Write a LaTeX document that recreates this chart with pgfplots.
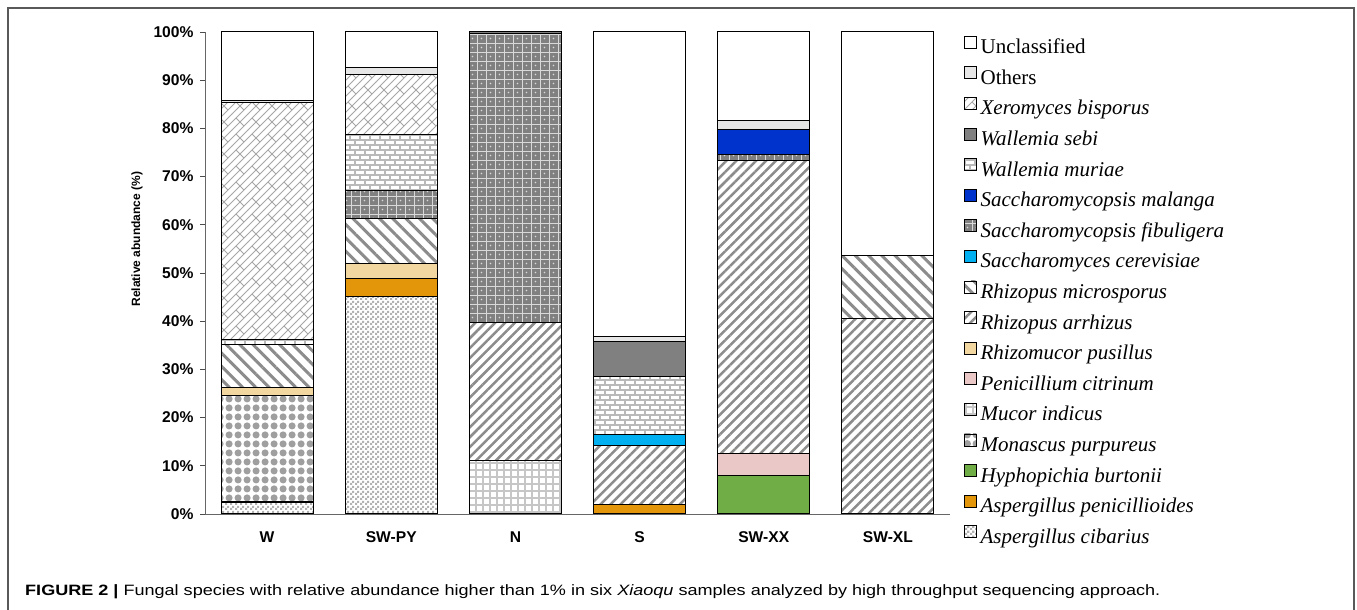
\documentclass[border=0pt]{standalone}
\usepackage{pgfplots}
\pgfplotsset{compat=1.18}
\usepackage{pgfplotstable}
\usepackage{fontspec}
\setmainfont{Liberation Serif}
\setsansfont{Liberation Sans}
\usetikzlibrary{patterns,patterns.meta}

% diagonal bricks (Xeromyces)
\pgfdeclarepatternformonly{diagbricks}{\pgfqpoint{-1pt}{-1pt}}{\pgfqpoint{17pt}{17pt}}{\pgfqpoint{16pt}{16pt}}{%
  \pgfsetlinewidth{0.9pt}%
  \pgfpathmoveto{\pgfqpoint{0pt}{0pt}}\pgfpathlineto{\pgfqpoint{16pt}{16pt}}%
  \pgfpathmoveto{\pgfqpoint{0pt}{8pt}}\pgfpathlineto{\pgfqpoint{8pt}{16pt}}%
  \pgfpathmoveto{\pgfqpoint{8pt}{0pt}}\pgfpathlineto{\pgfqpoint{16pt}{8pt}}%
  \pgfpathmoveto{\pgfqpoint{4pt}{4pt}}\pgfpathlineto{\pgfqpoint{0pt}{8pt}}%
  \pgfpathmoveto{\pgfqpoint{16pt}{8pt}}\pgfpathlineto{\pgfqpoint{12pt}{12pt}}%
  \pgfusepath{stroke}}
% horizontal bricks (Wallemia muriae)
\pgfdeclarepatternformonly{hbricks}{\pgfqpoint{-1pt}{-1pt}}{\pgfqpoint{21pt}{11pt}}{\pgfqpoint{20pt}{10pt}}{%
  \pgfsetlinewidth{1.6pt}%
  \pgfpathmoveto{\pgfqpoint{0pt}{0pt}}\pgfpathlineto{\pgfqpoint{20pt}{0pt}}%
  \pgfpathmoveto{\pgfqpoint{0pt}{5pt}}\pgfpathlineto{\pgfqpoint{20pt}{5pt}}%
  \pgfpathmoveto{\pgfqpoint{0pt}{0pt}}\pgfpathlineto{\pgfqpoint{0pt}{5pt}}%
  \pgfpathmoveto{\pgfqpoint{10pt}{0pt}}\pgfpathlineto{\pgfqpoint{10pt}{5pt}}%
  \pgfpathmoveto{\pgfqpoint{5pt}{5pt}}\pgfpathlineto{\pgfqpoint{5pt}{10pt}}%
  \pgfpathmoveto{\pgfqpoint{15pt}{5pt}}\pgfpathlineto{\pgfqpoint{15pt}{10pt}}%
  \pgfusepath{stroke}}
% grid with dots (Saccharomycopsis fibuligera)
\pgfdeclarepatternformonly{fibgrid}{\pgfqpoint{-1pt}{-1pt}}{\pgfqpoint{10pt}{10pt}}{\pgfqpoint{9pt}{9pt}}{%
  \pgfsetlinewidth{0.4pt}%
  \pgfpathmoveto{\pgfqpoint{0pt}{0pt}}\pgfpathlineto{\pgfqpoint{9pt}{0pt}}%
  \pgfpathmoveto{\pgfqpoint{0pt}{0pt}}\pgfpathlineto{\pgfqpoint{0pt}{9pt}}%
  \pgfusepath{stroke}%
  \pgfpathcircle{\pgfqpoint{4.5pt}{4.5pt}}{0.9pt}\pgfusepath{fill}}
% thick grid (Mucor indicus)
\pgfdeclarepatternformonly{mucgrid}{\pgfqpoint{-2pt}{-2pt}}{\pgfqpoint{9pt}{9pt}}{\pgfqpoint{7pt}{7pt}}{%
  \pgfsetlinewidth{2.4pt}%
  \pgfpathmoveto{\pgfqpoint{-1pt}{0pt}}\pgfpathlineto{\pgfqpoint{8pt}{0pt}}%
  \pgfpathmoveto{\pgfqpoint{0pt}{-1pt}}\pgfpathlineto{\pgfqpoint{0pt}{8pt}}%
  \pgfusepath{stroke}}
% big dots (Monascus purpureus)
\pgfdeclarepatternformonly{bigdots}{\pgfqpoint{0pt}{0pt}}{\pgfqpoint{9pt}{9pt}}{\pgfqpoint{9pt}{9pt}}{%
  \pgfpathcircle{\pgfqpoint{4.5pt}{4.5pt}}{3.9pt}\pgfusepath{fill}}
% fine checker (Aspergillus cibarius)
\pgfdeclarepatternformonly{finechk}{\pgfqpoint{0pt}{0pt}}{\pgfqpoint{5pt}{5pt}}{\pgfqpoint{5pt}{5pt}}{%
  \pgfpathrectangle{\pgfqpoint{0pt}{0pt}}{\pgfqpoint{2.5pt}{2.5pt}}%
  \pgfpathrectangle{\pgfqpoint{2.5pt}{2.5pt}}{\pgfqpoint{2.5pt}{2.5pt}}%
  \pgfusepath{fill}}

\definecolor{cOrange}{RGB}{228,150,10}
\definecolor{cGreen}{RGB}{112,173,71}
\definecolor{cPink}{RGB}{235,200,200}
\definecolor{cTan}{RGB}{242,215,160}
\definecolor{cCyan}{RGB}{0,176,240}
\definecolor{cBlue}{RGB}{0,51,204}
\definecolor{cGray}{RGB}{128,128,128}
\definecolor{cLight}{RGB}{230,230,230}

\pgfplotstableread{
x cib pen hyp mon muc pcit rpus rarr rmic scer sfib smal wmur wseb xero oth uncl
0 2.3 0.3 0 21.9 0 0 1.7 0 9.0 0 0 0 1.0 0 49.1 0.4 14.3
1 45.2 3.7 0 0 0 0 3.1 0 9.3 0 5.9 0 11.6 0 12.3 1.5 7.4
2 0 0 0 0 11.1 0 0 28.7 0 0 59.8 0 0 0.4 0 0 0
3 0 2.0 0 0 0 0 0 12.3 0 2.1 0 0 12.1 7.2 0 1.1 63.2
4 0 0 7.9 0 0 4.7 0 60.8 0 0 1.2 5.1 0 0 0 2.0 18.3
5 0 0 0 0 0 0 0 40.5 13.2 0 0 0 0 0 0 0 46.3
}\data

\begin{document}
\begin{tikzpicture}[x=1pt,y=1pt]
\path[use as bounding box] (0,0) rectangle (1357,610);
\draw[black!65, line width=1.3pt] (8,-3) -- (8,602) -- (1354,602) -- (1354,-3);
\begin{axis}[
  at={(205pt,96pt)}, anchor=south west,
  scale only axis, width=745pt, height=482pt,
  ybar stacked, bar width=92pt,
  xmin=-0.5, xmax=5.5, ymin=0, ymax=100,
  enlarge x limits=false,
  axis lines=left, axis line style={-, black!60, line width=0.9pt},
  xtick={0,...,5}, xticklabels={W,SW-PY,N,S,SW-XX,SW-XL},
  xtick style={draw=none},
  ytick={0,10,...,100},
  yticklabels={0\%,10\%,20\%,30\%,40\%,50\%,60\%,70\%,80\%,90\%,100\%},
  tick align=outside, major tick length=5pt,
  ytick style={black!70, line width=0.8pt},
  yticklabel style={font=\sffamily\bfseries\fontsize{15.6}{16}\selectfont, xshift=-3pt},
  xticklabel style={font=\sffamily\bfseries\fontsize{15.6}{16}\selectfont, yshift=-9pt},
  ylabel={Relative abundance (\%)},
  ylabel style={font=\sffamily\bfseries\fontsize{12}{13}\selectfont, at={(axis description cs:-0.0913,0.57)}, anchor=center},
  every axis plot post/.append style={draw=black, line width=1pt,
     legend image code/.code={\draw[##1, line width=0.6pt] (0pt,0.5pt) rectangle (12pt,12.5pt);}},
  reverse legend,
  legend style={at={(axis description cs:1.0188,0.992)}, anchor=north west,
     draw=none, fill=none, inner sep=0pt, outer sep=0pt,
     font=\fontsize{21}{21}\selectfont, row sep=8.3pt,
     nodes={inner sep=0pt, text height=14.5pt, text depth=4.5pt},
     cells={anchor=west},
     /tikz/every odd column/.append style={column sep=4pt}},
]
\addplot[fill=white, postaction={pattern=finechk, pattern color=gray!60}] table[x=x,y=cib]{\data};
\addlegendentry{\textit{Aspergillus cibarius}}
\addplot[fill=cOrange] table[x=x,y=pen]{\data};
\addlegendentry{\textit{Aspergillus penicillioides}}
\addplot[fill=cGreen] table[x=x,y=hyp]{\data};
\addlegendentry{\textit{Hyphopichia burtonii}}
\addplot[fill=white, postaction={pattern=bigdots, pattern color=gray!75}] table[x=x,y=mon]{\data};
\addlegendentry{\textit{Monascus purpureus}}
\addplot[fill=white, postaction={pattern=mucgrid, pattern color=gray!45}] table[x=x,y=muc]{\data};
\addlegendentry{\textit{Mucor indicus}}
\addplot[fill=cPink] table[x=x,y=pcit]{\data};
\addlegendentry{\textit{Penicillium citrinum}}
\addplot[fill=cTan] table[x=x,y=rpus]{\data};
\addlegendentry{\textit{Rhizomucor pusillus}}
\addplot[fill=white, postaction={pattern={Lines[angle=45, distance=7pt, line width=2.5pt]}, pattern color=gray!90}] table[x=x,y=rarr]{\data};
\addlegendentry{\textit{Rhizopus arrhizus}}
\addplot[fill=white, postaction={pattern={Lines[angle=-45, distance=9.4pt, line width=3pt]}, pattern color=gray!90}] table[x=x,y=rmic]{\data};
\addlegendentry{\textit{Rhizopus microsporus}}
\addplot[fill=cCyan] table[x=x,y=scer]{\data};
\addlegendentry{\textit{Saccharomyces cerevisiae}}
\addplot[fill=cGray, postaction={pattern=fibgrid, pattern color=white!70!gray}] table[x=x,y=sfib]{\data};
\addlegendentry{\textit{Saccharomycopsis fibuligera}}
\addplot[fill=cBlue] table[x=x,y=smal]{\data};
\addlegendentry{\textit{Saccharomycopsis malanga}}
\addplot[fill=white, postaction={pattern=hbricks, pattern color=gray!55}] table[x=x,y=wmur]{\data};
\addlegendentry{\textit{Wallemia muriae}}
\addplot[fill=cGray] table[x=x,y=wseb]{\data};
\addlegendentry{\textit{Wallemia sebi}}
\addplot[fill=white, postaction={pattern=diagbricks, pattern color=gray!70}] table[x=x,y=xero]{\data};
\addlegendentry{\textit{Xeromyces bisporus}}
\addplot[fill=cLight] table[x=x,y=oth]{\data};
\addlegendentry{Others}
\addplot[fill=white] table[x=x,y=uncl]{\data};
\addlegendentry{Unclassified}
\end{axis}
\node[anchor=base west, inner sep=0pt] at (25,14) {\resizebox{1135pt}{\height}{\fontsize{15}{18}\selectfont\sffamily\textbf{FIGURE 2 |} Fungal species with relative abundance higher than 1\% in six \textit{Xiaoqu} samples analyzed by high throughput sequencing approach.}};
\end{tikzpicture}
\end{document}
